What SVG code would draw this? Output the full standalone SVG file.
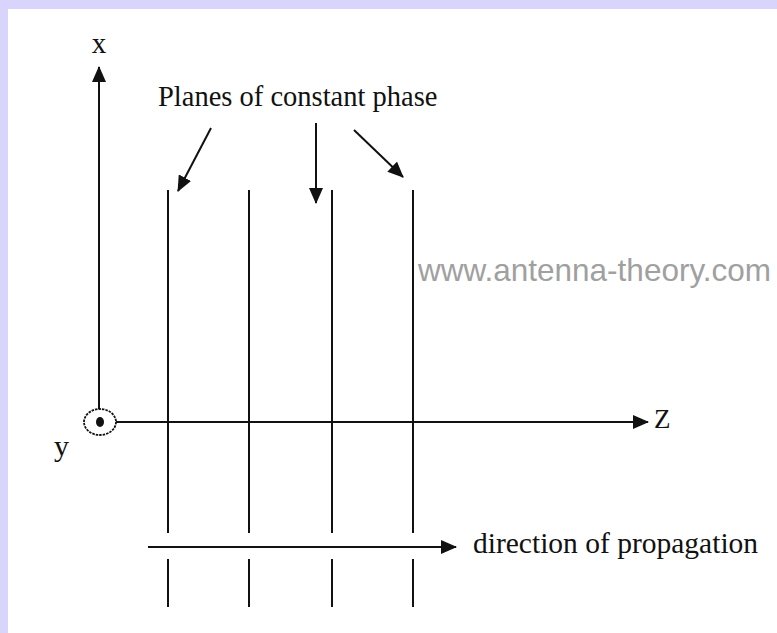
<svg xmlns="http://www.w3.org/2000/svg" width="777" height="633" viewBox="0 0 777 633">
<style>
.ln{stroke:#111;stroke-width:2;fill:none}
.ah{fill:#111}
.lbl{font-family:"Liberation Serif","Times New Roman",serif;fill:#111}
.wm{font-family:"Liberation Sans",Arial,sans-serif;fill:#a0a0a0}
</style>
<defs>
<marker id="arr" viewBox="0 0 16 14" refX="15" refY="7" markerWidth="16" markerHeight="14" markerUnits="userSpaceOnUse" orient="auto">
<path d="M0,0 L16,7 L0,14 Z" class="ah"/>
</marker>
</defs>
<rect x="0" y="0" width="777" height="633" fill="#d9d4fc"/>
<rect x="8" y="9" width="769" height="624" fill="#ffffff"/>
<g id="planes">
<line class="ln" x1="168" y1="190" x2="168" y2="533"/>
<line class="ln" x1="249" y1="190" x2="249" y2="533"/>
<line class="ln" x1="332" y1="190" x2="332" y2="533"/>
<line class="ln" x1="413" y1="190" x2="413" y2="533"/>
<line class="ln" x1="168" y1="559" x2="168" y2="607"/>
<line class="ln" x1="249" y1="559" x2="249" y2="607"/>
<line class="ln" x1="332" y1="559" x2="332" y2="607"/>
<line class="ln" x1="413" y1="559" x2="413" y2="607"/>
</g>
<g id="axes">
<line class="ln" x1="99" y1="409" x2="99" y2="67" marker-end="url(#arr)"/>
<line class="ln" x1="116" y1="422" x2="648" y2="422" marker-end="url(#arr)"/>
</g>
<g id="y-axis">
<ellipse cx="100" cy="422" rx="16" ry="13" fill="#fff" stroke="#111" stroke-width="1.8" stroke-dasharray="2.5 1"/>
<ellipse cx="100" cy="422" rx="4" ry="5" fill="#111"/>
</g>
<g id="connectors">
<line class="ln" x1="211" y1="128" x2="178" y2="191" marker-end="url(#arr)"/>
<line class="ln" x1="316" y1="123" x2="316" y2="203" marker-end="url(#arr)"/>
<line class="ln" x1="354" y1="130" x2="403" y2="177" marker-end="url(#arr)"/>
<line class="ln" x1="148" y1="547" x2="456" y2="547" marker-end="url(#arr)"/>
</g>
<g id="labels">
<text class="lbl" x="99" y="53" font-size="29" text-anchor="middle">x</text>
<text class="lbl" x="54" y="456" font-size="30">y</text>
<text class="lbl" x="654" y="428" font-size="27">Z</text>
<text class="lbl" x="158" y="106" font-size="28.5">Planes of constant phase</text>
<text class="lbl" x="473" y="553" font-size="29.5">direction of propagation</text>
</g>
<text class="wm" x="418" y="281" font-size="31.5">www.antenna-theory.com</text>
</svg>
